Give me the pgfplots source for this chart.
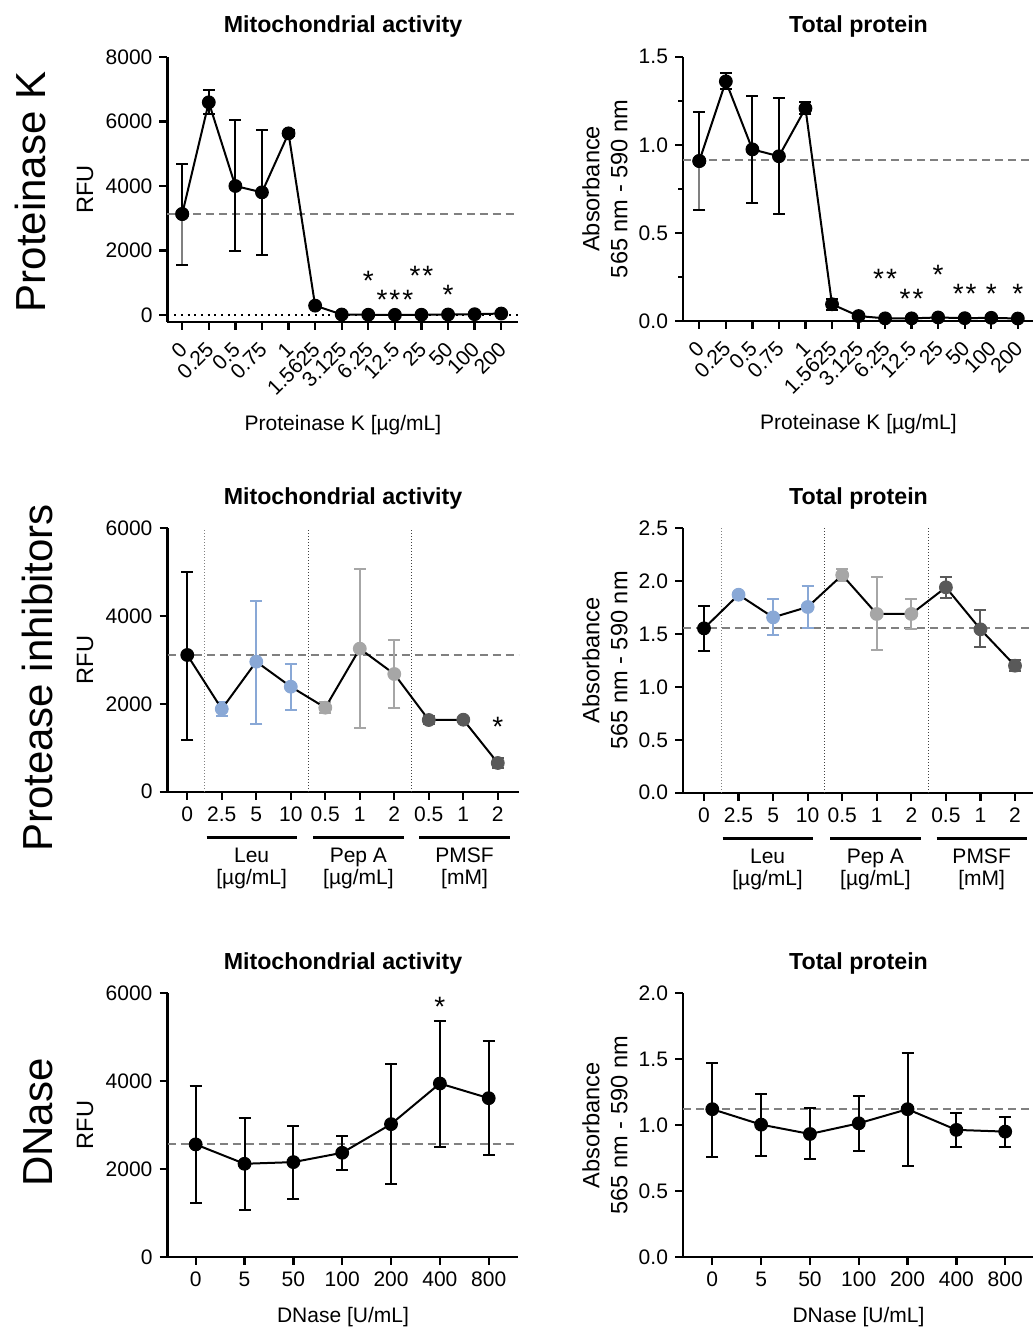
\documentclass[border=0pt]{standalone}
\usepackage{fontspec}
\setmainfont{Liberation Sans}
\usepackage{pgfplots}
\usepackage{pgfplotstable}
\pgfplotsset{compat=1.18}

\definecolor{refgray}{RGB}{128,128,128}
\definecolor{leublue}{RGB}{137,168,214}
\definecolor{pepgray}{RGB}{166,166,166}
\definecolor{pmsfgray}{RGB}{89,89,89}

\newcommand{\ticksz}{\fontsize{10.5}{12.6}\selectfont}
\newcommand{\ylsz}{\fontsize{11.8}{14}\selectfont}
\newcommand{\titsz}{\bfseries\fontsize{11.6}{13.5}\selectfont}
\newcommand{\rowsz}{\fontsize{21}{25}\selectfont}
\newcommand{\starsz}{\fontsize{14}{16}\selectfont}

\tikzset{
  sigstar/.style={font=\starsz, anchor=base, inner sep=0pt},
  grplab/.style={font=\ticksz, anchor=base, inner sep=0pt},
}

\pgfplotsset{
  prism/.style={
    scale only axis, width=175.5pt, clip=false,
    axis lines*=left,
    axis line style={line width=1.15pt},
    tick align=outside,
    major tick length=4pt, minor tick length=2.5pt,
    every tick/.style={black, line width=1.15pt},
    tick label style={font=\ticksz},
    scaled y ticks=false,
    /pgf/number format/assume math mode=true,
    /pgf/number format/1000 sep={},
    title style={font=\titsz, at={(0.5,1)}, anchor=base, yshift=6pt},
    xlabel style={font=\ticksz, at={(axis description cs:0.5,0)}, anchor=base},
    ylabel style={font=\ylsz},
  },
  rfu/.style={ylabel={RFU}, ylabel style={at={(axis description cs:-0.212,0.5)}, anchor=base}},
  absorb/.style={ylabel={Absorbance\\565 nm - 590 nm},
    ylabel style={align=center, anchor=south, inner sep=0pt, at={(axis description cs:-0.157,0.5)}},
    yticklabel style={/pgf/number format/.cd, fixed, fixed zerofill, precision=1}},
  pkticks/.style={xtick={0,...,12},
    xticklabels={0,0.25,0.5,0.75,1,1.5625,3.125,6.25,12.5,25,50,100,200},
    xticklabel style={xshift=3pt, rotate=45, anchor=east}, xticklabel shift=5.5pt},
  dots/.style={mark=*, mark size=3.2pt, mark options={solid, line width=0.5pt}, only marks,
    error bars/y dir=both, error bars/y explicit,
    error bars/error bar style={line width=1pt, solid},
    error bars/error mark options={rotate=90, mark size=3pt, line width=1pt}},
  lowgray/.style={error bars/y dir=minus,
    error bars/error bar style={refgray, line width=1pt, solid},
    error bars/error mark options={black, rotate=90, mark size=3pt, line width=1pt}},
  refline/.style={refgray, line width=1pt, dash pattern=on 4pt off 2.5pt},
  conn/.style={black, line width=1pt, no markers},
  sep/.style={line width=0.5pt, dash pattern=on 0.5pt off 1pt, no markers},
}

% Proteinase K, mitochondrial activity (RFU)
\pgfplotstableread{
x y ep em
0 3131 1559 1581
1 6594 381 364
2 4000 2045 2006
3 3803 1932 1933
4 5632 90 90
5 290 60 60
6 15 10 10
7 8 10 8
8 5 10 5
9 8 10 8
10 15 10 10
11 25 10 10
12 45 10 10
}\pkmito
% Proteinase K, total protein
\pgfplotstableread{
x y ep em
0 0.908 0.280 0.278
1 1.360 0.046 0.045
2 0.974 0.301 0.304
3 0.935 0.332 0.330
4 1.207 0.035 0.035
5 0.095 0.030 0.030
6 0.028 0.006 0.006
7 0.015 0.004 0.004
8 0.015 0.004 0.004
9 0.020 0.004 0.004
10 0.016 0.004 0.004
11 0.018 0.004 0.004
12 0.014 0.004 0.004
}\pkprot
% Protease inhibitors, mitochondrial activity
\pgfplotstableread{
x y ep em
0 3114 1884 1936
1 1884 160 160
2 2962 1389 1413
3 2392 517 531
4 1914 120 120
5 3258 1815 1800
6 2681 782 767
7 1633 90 90
8 1640 40 40
9 654 120 120
}\pimito
% Protease inhibitors, total protein
\pgfplotstableread{
x y ep em
0 1.554 0.211 0.211
1 1.872 0.020 0.020
2 1.658 0.171 0.167
3 1.756 0.198 0.199
4 2.058 0.054 0.054
5 1.690 0.350 0.338
6 1.690 0.139 0.145
7 1.942 0.094 0.098
8 1.545 0.182 0.165
9 1.201 0.050 0.050
}\piprot
% DNase, mitochondrial activity
\pgfplotstableread{
x y ep em
0 2562 1325 1327
1 2121 1045 1053
2 2159 819 841
3 2371 386 394
4 3023 1364 1356
5 3948 1416 1440
6 3614 1296 1288
}\dnmito
% DNase, total protein
\pgfplotstableread{
x y ep em
0 1.121 0.353 0.360
1 1.004 0.233 0.235
2 0.933 0.200 0.187
3 1.014 0.208 0.207
4 1.121 0.429 0.428
5 0.964 0.126 0.127
6 0.951 0.113 0.114
}\dnprot

\begin{document}
\begin{tikzpicture}
\useasboundingbox (0,0) rectangle (516.5pt,665pt);

\node[rotate=90, anchor=base, font=\rowsz] at (22.5pt,569pt) {Proteinase K};
\node[rotate=90, anchor=base, font=\rowsz] at (26pt,326pt) {Protease inhibitors};
\node[rotate=90, anchor=base, font=\rowsz] at (26pt,103.75pt) {DNase};

% ---------- row 1 ----------
\begin{axis}[prism, rfu, pkticks, at={(83.75pt,504pt)}, anchor=south west,
  height=132.5pt, xmin=-0.553, xmax=12.65, ymin=-217, ymax=8000,
  ytick={0,2000,4000,6000,8000},
  title={Mitochondrial activity},
  xlabel={Proteinase K [µg/mL]}, xlabel style={yshift=-54.25pt}]
\addplot[refline] coordinates {(-0.553,3131) (12.65,3131)};
\addplot[black, line width=1pt, dash pattern=on 1pt off 2.35pt] coordinates {(-0.553,0) (12.65,0)};
\addplot[black, dots, restrict x to domain=0.5:13] table[x=x, y=y, y error plus=ep, y error minus=em] {\pkmito};
\addplot[black, dots, restrict x to domain=-0.5:0.5, error bars/y dir=plus] table[x=x, y=y, y error plus=ep, y error minus=em] {\pkmito};
\addplot[black, dots, restrict x to domain=-0.5:0.5, lowgray] table[x=x, y=y, y error plus=ep, y error minus=em] {\pkmito};
\addplot[conn] table[x=x, y=y] {\pkmito};
\node[sigstar] at (axis cs:7,772) {*};
\node[sigstar] at (axis cs:8,183) {*\kern1pt*\kern1pt*};
\node[sigstar] at (axis cs:9,918) {*\kern1pt*};
\node[sigstar] at (axis cs:10,329) {*};
\end{axis}

\begin{axis}[prism, absorb, pkticks, at={(341.5pt,504.5pt)}, anchor=south west,
  height=132.15pt, xmin=-0.614, xmax=12.61, ymin=0, ymax=1.5,
  ytick={0,0.5,1,1.5}, minor ytick={0.25,0.75,1.25},
  title={Total protein},
  xlabel={Proteinase K [µg/mL]}, xlabel style={yshift=-54.5pt}]
\addplot[refline] coordinates {(-0.614,0.912) (12.61,0.912)};
\addplot[black, dots, restrict x to domain=0.5:13] table[x=x, y=y, y error plus=ep, y error minus=em] {\pkprot};
\addplot[black, dots, restrict x to domain=-0.5:0.5, error bars/y dir=plus] table[x=x, y=y, y error plus=ep, y error minus=em] {\pkprot};
\addplot[black, dots, restrict x to domain=-0.5:0.5, lowgray] table[x=x, y=y, y error plus=ep, y error minus=em] {\pkprot};
\addplot[conn] table[x=x, y=y] {\pkprot};
\node[sigstar] at (axis cs:7,0.187) {*\kern1pt*};
\node[sigstar] at (axis cs:8,0.071) {*\kern1pt*};
\node[sigstar] at (axis cs:9,0.207) {*};
\node[sigstar] at (axis cs:10,0.101) {*\kern1pt*};
\node[sigstar] at (axis cs:11,0.101) {*};
\node[sigstar] at (axis cs:12,0.101) {*};
\end{axis}

% ---------- row 2 ----------
\begin{axis}[prism, rfu, at={(83.75pt,269.15pt)}, anchor=south west,
  height=131.7pt, xmin=-0.573, xmax=9.60, ymin=0, ymax=6000,
  ytick={0,2000,4000,6000},
  xtick={0,...,9},
  xticklabels={0,2.5,5,10,0.5,1,2,0.5,1,2},
  title={Mitochondrial activity}]
\addplot[sep, gray] coordinates {(0.5,0) (0.5,6000)};
\addplot[sep, black!75] coordinates {(3.5,0) (3.5,6000)};
\addplot[sep, black!75] coordinates {(6.5,0) (6.5,6000)};
\addplot[refline] coordinates {(-0.573,3114) (9.60,3114)};
\addplot[black, dots, restrict x to domain=-0.5:0.5] table[x=x, y=y, y error plus=ep, y error minus=em] {\pimito};
\addplot[leublue, dots, restrict x to domain=0.5:3.5] table[x=x, y=y, y error plus=ep, y error minus=em] {\pimito};
\addplot[pepgray, dots, restrict x to domain=3.5:6.5] table[x=x, y=y, y error plus=ep, y error minus=em] {\pimito};
\addplot[pmsfgray, dots, restrict x to domain=6.5:9.5] table[x=x, y=y, y error plus=ep, y error minus=em] {\pimito};
\addplot[conn] table[x=x, y=y] {\pimito};
\node[sigstar] at (axis cs:9,1260) {*};
\draw[line width=1.5pt] ([yshift=-23pt]axis cs:0.56,0) -- ([yshift=-23pt]axis cs:3.17,0);
\draw[line width=1.5pt] ([yshift=-23pt]axis cs:3.65,0) -- ([yshift=-23pt]axis cs:6.27,0);
\draw[line width=1.5pt] ([yshift=-23pt]axis cs:6.73,0) -- ([yshift=-23pt]axis cs:9.34,0);
\node[grplab] at ([yshift=-35.25pt]axis cs:1.865,0) {Leu};
\node[grplab] at ([yshift=-46.25pt]axis cs:1.865,0) {[µg/mL]};
\node[grplab] at ([yshift=-35.25pt]axis cs:4.96,0) {Pep A};
\node[grplab] at ([yshift=-46.25pt]axis cs:4.96,0) {[µg/mL]};
\node[grplab] at ([yshift=-35.25pt]axis cs:8.035,0) {PMSF};
\node[grplab] at ([yshift=-46.25pt]axis cs:8.035,0) {[mM]};
\end{axis}

\begin{axis}[prism, absorb, at={(341.5pt,268.65pt)}, anchor=south west,
  height=132.2pt, xmin=-0.608, xmax=9.55, ymin=0, ymax=2.5,
  ytick={0,0.5,1,1.5,2,2.5},
  xtick={0,...,9},
  xticklabels={0,2.5,5,10,0.5,1,2,0.5,1,2},
  title={Total protein}]
\addplot[sep, gray] coordinates {(0.5,0) (0.5,2.5)};
\addplot[sep, black!75] coordinates {(3.5,0) (3.5,2.5)};
\addplot[sep, black!75] coordinates {(6.5,0) (6.5,2.5)};
\addplot[refline] coordinates {(-0.608,1.554) (9.55,1.554)};
\addplot[black, dots, restrict x to domain=-0.5:0.5] table[x=x, y=y, y error plus=ep, y error minus=em] {\piprot};
\addplot[leublue, dots, restrict x to domain=0.5:3.5] table[x=x, y=y, y error plus=ep, y error minus=em] {\piprot};
\addplot[pepgray, dots, restrict x to domain=3.5:6.5] table[x=x, y=y, y error plus=ep, y error minus=em] {\piprot};
\addplot[pmsfgray, dots, restrict x to domain=6.5:9.5] table[x=x, y=y, y error plus=ep, y error minus=em] {\piprot};
\addplot[conn] table[x=x, y=y] {\piprot};
\draw[line width=1.5pt] ([yshift=-23pt]axis cs:0.54,0) -- ([yshift=-23pt]axis cs:3.14,0);
\draw[line width=1.5pt] ([yshift=-23pt]axis cs:3.65,0) -- ([yshift=-23pt]axis cs:6.27,0);
\draw[line width=1.5pt] ([yshift=-23pt]axis cs:6.73,0) -- ([yshift=-23pt]axis cs:9.34,0);
\node[grplab] at ([yshift=-35.25pt]axis cs:1.84,0) {Leu};
\node[grplab] at ([yshift=-46.25pt]axis cs:1.84,0) {[µg/mL]};
\node[grplab] at ([yshift=-35.25pt]axis cs:4.96,0) {Pep A};
\node[grplab] at ([yshift=-46.25pt]axis cs:4.96,0) {[µg/mL]};
\node[grplab] at ([yshift=-35.25pt]axis cs:8.035,0) {PMSF};
\node[grplab] at ([yshift=-46.25pt]axis cs:8.035,0) {[mM]};
\end{axis}

% ---------- row 3 ----------
\begin{axis}[prism, rfu, at={(83.75pt,36.5pt)}, anchor=south west,
  height=131.85pt, xmin=-0.577, xmax=6.61, ymin=0, ymax=6000,
  ytick={0,2000,4000,6000},
  xtick={0,...,6},
  xticklabels={0,5,50,100,200,400,800},
  title={Mitochondrial activity},
  xlabel={DNase [U/mL]}, xlabel style={yshift=-32.75pt}]
\addplot[refline] coordinates {(-0.577,2562) (6.61,2562)};
\addplot[black, dots] table[x=x, y=y, y error plus=ep, y error minus=em] {\dnmito};
\addplot[conn] table[x=x, y=y] {\dnmito};
\node[sigstar] at (axis cs:5,5469) {*};
\end{axis}

\begin{axis}[prism, absorb, at={(341.5pt,36.5pt)}, anchor=south west,
  height=131.85pt, xmin=-0.60, xmax=6.59, ymin=0, ymax=2.0,
  ytick={0,0.5,1,1.5,2},
  xtick={0,...,6},
  xticklabels={0,5,50,100,200,400,800},
  title={Total protein},
  xlabel={DNase [U/mL]}, xlabel style={yshift=-32.75pt}]
\addplot[refline] coordinates {(-0.60,1.121) (6.59,1.121)};
\addplot[black, dots] table[x=x, y=y, y error plus=ep, y error minus=em] {\dnprot};
\addplot[conn] table[x=x, y=y] {\dnprot};
\end{axis}
\end{tikzpicture}
\end{document}
